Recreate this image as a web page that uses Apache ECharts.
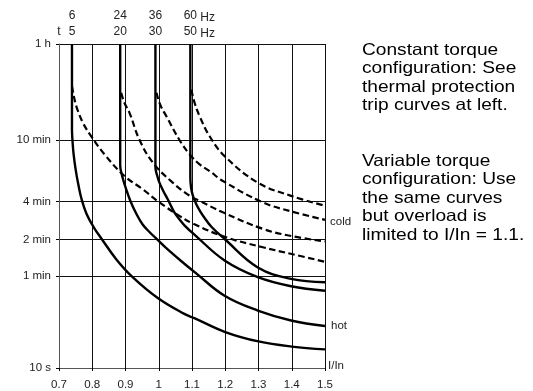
<!DOCTYPE html>
<html>
<head>
<meta charset="utf-8">
<style>
  html, body { margin: 0; padding: 0; background: #fff; }
  #chart { width: 533px; height: 391px; }
</style>
<script src="https://cdn.jsdelivr.net/npm/echarts@6/dist/echarts.min.js"></script>
</head>
<body>
<div id="chart"></div>
<script>
// Trip-time axis: labelled times (seconds) and where each sits on the axis (0 = bottom, 1 = top)
const timeTicks = [10, 60, 120, 240, 600, 3600];
const timeTickLabels = ['10 s', '1 min', '2 min', '4 min', '10 min', '1 h'];
const timeTickLevels = [0, 0.283, 0.396, 0.514, 0.703, 1];

// Output frequency of each curve pair: 60 Hz motors (top row) / 50 Hz motors (bottom row)
const freq60 = ['6', '24', '36', '60'];
const freq50 = ['5', '20', '30', '50'];

// Trip curves, [I/In, trip time in seconds]; hot = solid, cold = dashed
const hot5 = [[0.739, 3600], [0.739, 732], [0.7405, 600], [0.744, 485], [0.750, 388], [0.758, 310], [0.768, 248], [0.783, 191], [0.804, 151], [0.830, 120], [0.872, 83], [0.919, 60], [0.997, 39.3], [1.077, 28.8], [1.107, 26.5], [1.2, 20.2], [1.3, 16.8], [1.4, 15.2], [1.5, 14.4]];
const cold5 = [[0.739, 1640], [0.745, 1350], [0.752, 1130], [0.772, 830], [0.797, 646], [0.837, 485], [0.897, 351], [0.952, 288], [1.002, 236], [1.062, 185], [1.1, 162], [1.2, 126], [1.313, 104], [1.4, 91.5], [1.5, 79]];
const hot20 = [[0.884, 3600], [0.884, 412], [0.891, 345], [0.902, 288], [0.915, 241], [0.933, 191], [0.951, 159], [0.972, 138], [0.996, 120], [1.032, 97], [1.078, 75.8], [1.108, 65], [1.198, 41], [1.298, 30.7], [1.398, 25.3], [1.5, 22.7]];
const cold20 = [[0.887, 1450], [0.897, 1200], [0.912, 1000], [0.942, 605], [0.982, 430], [1.042, 318], [1.093, 261], [1.123, 242], [1.193, 197], [1.313, 146], [1.4, 128], [1.5, 116]];
const hot30 = [[0.99, 3600], [0.99, 400], [0.995, 355], [1.002, 318], [1.014, 280], [1.027, 248], [1.047, 197], [1.062, 174], [1.078, 155], [1.108, 131], [1.198, 81], [1.298, 59], [1.398, 49.4], [1.5, 45.3]];
const cold30 = [[0.993, 1450], [1.005, 1150], [1.023, 937], [1.062, 605], [1.093, 485], [1.123, 418], [1.153, 378], [1.193, 326], [1.313, 236], [1.4, 200], [1.5, 172]];
const hot50 = [[1.095, 3600], [1.095, 345], [1.097, 297], [1.103, 260], [1.114, 225], [1.126, 198], [1.138, 178], [1.159, 151], [1.198, 121.5], [1.298, 71], [1.398, 57], [1.5, 53.4]];
const cold50 = [[1.098, 1540], [1.108, 1200], [1.123, 937], [1.153, 646], [1.198, 473], [1.298, 318], [1.398, 261], [1.5, 222]];

const hotCurves = [hot5, hot20, hot30, hot50];
const coldCurves = [cold5, cold20, cold30, cold50];

const FONT = '"Liberation Sans", Arial, Helvetica, sans-serif';

// The time scale is logarithmic between labelled ticks, each span with its own stretch
function timeLevel(t) {
  const lt = Math.log10(t);
  const n = timeTicks.length;
  for (let i = 0; i < n - 1; i++) {
    const a = Math.log10(timeTicks[i]), b = Math.log10(timeTicks[i + 1]);
    if (lt <= b || i === n - 2) {
      const f = (lt - a) / (b - a);
      return timeTickLevels[i] + f * (timeTickLevels[i + 1] - timeTickLevels[i]);
    }
  }
  return 0;
}
function levelLabel(v) {
  let best = 0;
  timeTickLevels.forEach((l, i) => { if (Math.abs(l - v) < Math.abs(timeTickLevels[best] - v)) best = i; });
  return timeTickLabels[best];
}
const toPoints = curve => curve.map(p => [p[0], timeLevel(p[1])]);

const series = [];
hotCurves.forEach((c, i) => series.push({
  name: 'hot ' + freq50[i], type: 'line', data: toPoints(c), showSymbol: false, smooth: 0.4,
  lineStyle: { color: '#000', width: 2.4, type: 'solid' }, z: 3
}));
coldCurves.forEach((c, i) => series.push({
  name: 'cold ' + freq50[i], type: 'line', data: toPoints(c), showSymbol: false, smooth: 0.4,
  lineStyle: { color: '#000', width: 2.2, type: [6.5, 3.5] }, z: 3
}));

const chart = echarts.init(document.getElementById('chart'), null, { renderer: 'canvas' });
chart.setOption({
  animation: false,
  backgroundColor: '#fff',
  grid: { left: 59, top: 44, width: 266, height: 325, containLabel: false },
  xAxis: {
    type: 'value', min: 0.7, max: 1.5, interval: 0.1,
    axisLine: { show: true, onZero: false, lineStyle: { color: '#555', width: 1 } },
    axisTick: { show: true, inside: false, length: 3, lineStyle: { color: '#000' } },
    axisLabel: { color: '#222', fontSize: 11.5, fontFamily: FONT, margin: 11 },
    splitLine: { show: true, lineStyle: { color: '#111', width: 1 } }
  },
  yAxis: {
    type: 'value', min: 0, max: 1,
    axisLine: { show: true, lineStyle: { color: '#555', width: 1 } },
    axisTick: { show: true, length: 3, customValues: timeTickLevels, lineStyle: { color: '#000' } },
    axisLabel: { customValues: timeTickLevels, formatter: v => levelLabel(v), color: '#222', fontSize: 11.5, fontFamily: FONT, margin: 8 },
    splitLine: { show: true, lineStyle: { color: '#111', width: 1 } }
  },
  series: series
});

// Frequency captions above each vertical branch, plus side notes
const textStyle = (extra) => Object.assign({ fill: '#222', font: '12px ' + FONT }, extra);
const graphics = [];
const axisCorner = chart.convertToPixel({ gridIndex: 0 }, [0.7, 1]);
graphics.push({ type: 'text', x: axisCorner[0], y: 32, style: textStyle({ text: 't', textAlign: 'center', textVerticalAlign: 'middle' }) });
hotCurves.forEach((c, i) => {
  const px = chart.convertToPixel({ gridIndex: 0 }, [c[0][0], timeLevel(c[0][1])])[0];
  graphics.push({ type: 'text', x: px, y: 16, style: textStyle({ text: freq60[i], textAlign: 'center', textVerticalAlign: 'middle' }) });
  graphics.push({ type: 'text', x: px, y: 32, style: textStyle({ text: freq50[i], textAlign: 'center', textVerticalAlign: 'middle' }) });
  if (i === hotCurves.length - 1) {
    graphics.push({ type: 'text', x: px + 10, y: 18, style: textStyle({ text: 'Hz', textVerticalAlign: 'middle' }) });
    graphics.push({ type: 'text', x: px + 10, y: 34, style: textStyle({ text: 'Hz', textVerticalAlign: 'middle' }) });
  }
});
graphics.push({ type: 'text', x: 330, y: 222, style: textStyle({ text: 'cold', font: '11.5px ' + FONT, textVerticalAlign: 'middle' }) });
graphics.push({ type: 'text', x: 331, y: 326, style: textStyle({ text: 'hot', font: '11.5px ' + FONT, textVerticalAlign: 'middle' }) });
graphics.push({ type: 'text', x: 328, y: 366, style: textStyle({ text: 'I/In', font: '11.5px ' + FONT, textVerticalAlign: 'middle' }) });
graphics.push({ type: 'text', x: 362, y: 41, scaleX: 1.16, style: { text: 'Constant torque\nconfiguration: See\nthermal protection\ntrip curves at left.', fill: '#000', font: '16.5px ' + FONT, lineHeight: 18.5 } });
graphics.push({ type: 'text', x: 362, y: 152, scaleX: 1.16, style: { text: 'Variable torque\nconfiguration: Use\nthe same curves\nbut overload is\nlimited to I/In = 1.1.', fill: '#000', font: '16.5px ' + FONT, lineHeight: 18.5 } });
chart.setOption({ graphic: graphics });
</script>
</body>
</html>
